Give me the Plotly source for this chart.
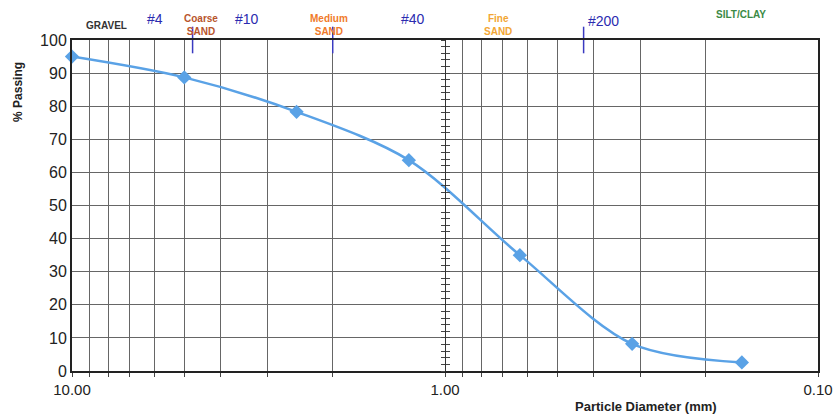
import plotly.graph_objects as go

# gradation test results
diameter_mm = [10.0, 5.0, 2.5, 1.25, 0.63, 0.315, 0.16]
pct_passing = [95.0, 88.7, 78.3, 63.7, 35.0, 8.2, 2.6]

# sieve marks along the top edge
sieve_mm = [4.75, 2.0, 0.425]

# grid / tick values on the log axis
x_grid = [10, 9, 8, 7, 6, 5, 4, 3, 2, 1, 0.9, 0.8, 0.7, 0.6, 0.5, 0.4, 0.3, 0.2, 0.1]
x_labels = {10: '10.00', 1: '1.00', 0.1: '0.10'}

# labels above the chart: (text, x in paper, y in paper, colour, size, bold)
top_labels = [
    ('GRAVEL', 0.046, 1.045, '#333333', 10, True),
    ('#4', 0.111, 1.062, '#2b2bb0', 14, False),
    ('Coarse<br>SAND', 0.173, 1.045, '#b8552c', 10, True),
    ('#10', 0.235, 1.062, '#2b2bb0', 14, False),
    ('Medium<br>SAND', 0.345, 1.045, '#f07a2a', 10, True),
    ('#40', 0.457, 1.062, '#2b2bb0', 14, False),
    ('Fine<br>SAND', 0.571, 1.045, '#f2a634', 10, True),
    ('#200', 0.713, 1.058, '#2b2bb0', 14, False),
    ('SILT/CLAY', 0.897, 1.078, '#3b8a45', 10, True),
]

font = 'Liberation Sans, Arial, sans-serif'
blue = '#5aa2e6'

fig = go.Figure()

fig.add_trace(go.Scatter(x=diameter_mm, y=pct_passing, mode='lines+markers',
                         line=dict(color=blue, width=2.5, shape='spline', smoothing=0.9),
                         marker=dict(symbol='diamond', size=11, color=blue),
                         cliponaxis=False, showlegend=False))

fig.add_trace(go.Scatter(x=sieve_mm, y=[100] * len(sieve_mm), mode='markers',
                         marker=dict(symbol='line-ns', size=19, line=dict(color='#3a3ac0', width=1.5)),
                         cliponaxis=False, showlegend=False))

# dummy traces so the tick "ladder" axes at 1.00 get drawn
for ax in ['y2', 'y3']:
    fig.add_trace(go.Scatter(x=[1], y=[50], yaxis=ax, mode='markers',
                             marker=dict(opacity=0), showlegend=False, hoverinfo='skip'))

for text, xp, yp, col, size, bold in top_labels:
    if bold:
        text = '<b>' + text + '</b>'
    fig.add_annotation(text=text, x=xp, y=yp, xref='paper', yref='paper', showarrow=False,
                       xanchor='center', yanchor='middle',
                       font=dict(color=col, size=size, family=font), align='center')

fig.add_annotation(text='<b>% Passing</b>', x=-0.0724, y=0.843, xref='paper', yref='paper',
                   xanchor='center', yanchor='middle',
                   textangle=-90, showarrow=False, font=dict(size=12, color='#222', family=font))
fig.add_annotation(text='<b>Particle Diameter (mm)</b>', x=0.769, y=-0.107, xref='paper', yref='paper',
                   xanchor='center', yanchor='middle',
                   showarrow=False, font=dict(size=13, color='#222', family=font))

fig.update_layout(
    width=837, height=417,
    margin=dict(l=72, r=19, t=40, b=46),
    plot_bgcolor='white', paper_bgcolor='white',
    font=dict(family=font, color='#222'),
    xaxis=dict(type='log', range=[1, -1], tickvals=x_grid, automargin=False,
               ticktext=[x_labels.get(v, '') for v in x_grid],
               showgrid=True, gridcolor='#666', gridwidth=1,
               showline=True, linecolor='#222', linewidth=2, mirror=True,
               ticks='outside', ticklen=4, tickcolor='#444',
               tickfont=dict(size=15), zeroline=False),
    yaxis=dict(range=[0, 100], dtick=10, showgrid=True, gridcolor='#666', gridwidth=1,
               showline=True, linecolor='#222', linewidth=2, mirror=True, automargin=False,
               ticks='', tickfont=dict(size=16), zeroline=False),
    yaxis2=dict(range=[0, 100], overlaying='y', anchor='free', position=0.5, side='left',
                showgrid=False, showline=True, linecolor='#333', linewidth=1, automargin=False,
                ticks='outside', ticklen=4, dtick=2, tickcolor='#444',
                showticklabels=False, zeroline=False),
    yaxis3=dict(range=[0, 100], overlaying='y', anchor='free', position=0.5, side='left',
                showgrid=False, showline=False, automargin=False,
                ticks='inside', ticklen=4, dtick=2, tickcolor='#444',
                showticklabels=False, zeroline=False),
)

# drop the page's default body margin so the figure sits at the window's corner
fig.write_html('out.html', config={'displayModeBar': False},
               post_script="document.body.style.margin='0';")
